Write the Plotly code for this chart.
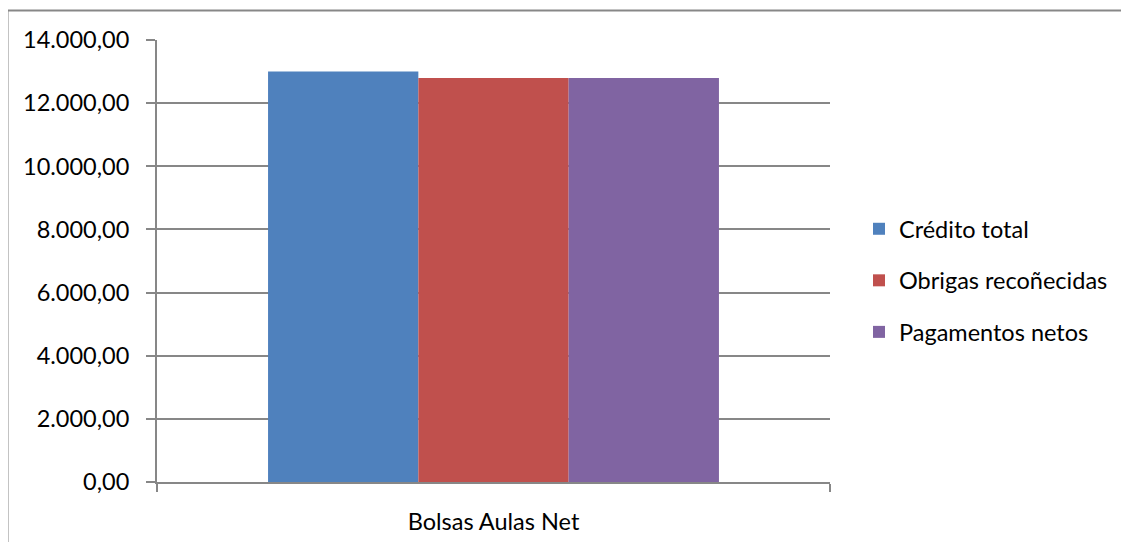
import plotly.graph_objects as go

categories = ["Bolsas Aulas Net"]
series_names = ["Crédito total", "Obrigas recoñecidas", "Pagamentos netos"]
series_values = [[13000.0], [12800.0], [12800.0]]
colors = ["#4F81BD", "#C0504D", "#8064A2"]
tick_vals = [0, 2000, 4000, 6000, 8000, 10000, 12000, 14000]
tick_text = ["0,00", "2.000,00", "4.000,00", "6.000,00", "8.000,00", "10.000,00", "12.000,00", "14.000,00"]

FONT = "Lato, Calibri, Carlito, sans-serif"
GRAY = "#878787"
FS = 23.5

fig = go.Figure()
for i, (name, vals, col) in enumerate(zip(series_names, series_values, colors)):
    fig.add_trace(go.Bar(x=categories, y=vals, name=name, legendgroup=f"g{i}",
                         marker=dict(color=col, line=dict(width=0))))

# page body has an 8px offset; compensate in margins
OFF = 8
L, T = 157 - OFF, 40 - OFF
W, H = 1129, 542
R = W - (830 - OFF)
B = H - (482 - OFF)
pw, ph = W - L - R, H - T - B

def px(xpage):
    return (xpage - OFF - L) / pw

def py(ypage):
    return (H - B - (ypage - OFF)) / ph

fig.update_layout(
    width=W, height=H,
    margin=dict(l=L, r=R, t=T, b=B),
    paper_bgcolor="white", plot_bgcolor="white",
    barmode="group", bargap=0.33, bargroupgap=0,
    font=dict(family=FONT, size=FS, color="black"),
    showlegend=True,
    legend=dict(x=px(859), y=py(207), xanchor="left", yanchor="top",
                font=dict(family=FONT, size=FS, color="black"),
                traceorder="grouped", tracegroupgap=18,
                bgcolor="rgba(0,0,0,0)"),
    xaxis=dict(range=[-0.5, 0.5], showline=True, linecolor=GRAY, linewidth=2,
               ticks="outside", tickson="boundaries", ticklen=8, tickcolor=GRAY, tickwidth=2,
               showgrid=False, tickfont=dict(family=FONT, size=FS), fixedrange=True,
               ticklabelstandoff=18),
    yaxis=dict(range=[0, 14000], tickvals=tick_vals, ticktext=tick_text,
               showline=True, linecolor=GRAY, linewidth=2,
               ticks="outside", ticklen=9, tickcolor=GRAY, tickwidth=2,
               showgrid=True, gridcolor=GRAY, gridwidth=1.5, zeroline=False,
               tickfont=dict(family=FONT, size=FS), ticklabelstandoff=12),
)

# chart-area border (top and left edges visible)
fig.add_shape(type="line", xref="paper", yref="paper",
              x0=px(7.5), x1=px(W + 20), y0=py(10.5), y1=py(10.5),
              line=dict(color=GRAY, width=2))
fig.add_shape(type="line", xref="paper", yref="paper",
              x0=px(7.5), x1=px(7.5), y0=py(10.5), y1=py(H + 20),
              line=dict(color=GRAY, width=2))

fig.write_html("out.html")
